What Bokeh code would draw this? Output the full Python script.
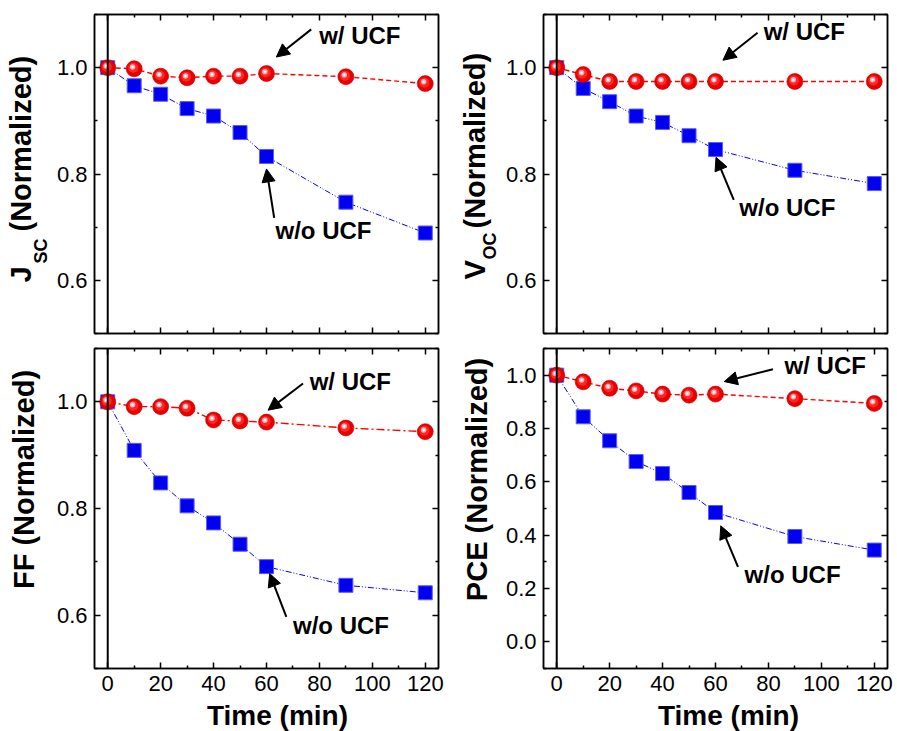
import math
from bokeh.plotting import figure
from bokeh.layouts import column, row
from bokeh.models import (ColumnDataSource, LinearAxis, FixedTicker, Span, Arrow,
                          NormalHead, Label, PrintfTickFormatter, Range1d)
from bokeh.transform import dodge
from bokeh.embed import file_html
from bokeh.resources import INLINE

# ---------------- data ----------------
time_min = [0, 10, 20, 30, 40, 50, 60, 90, 120]

jsc_with = [1.0, 0.998, 0.984, 0.981, 0.984, 0.984, 0.989, 0.983, 0.970]
jsc_without = [1.0, 0.966, 0.950, 0.923, 0.909, 0.878, 0.833, 0.747, 0.689]

voc_with = [1.0, 0.987, 0.974, 0.974, 0.974, 0.974, 0.974, 0.974, 0.974]
voc_without = [1.0, 0.961, 0.936, 0.909, 0.897, 0.872, 0.846, 0.807, 0.782]

ff_with = [1.0, 0.991, 0.991, 0.988, 0.966, 0.964, 0.962, 0.951, 0.944]
ff_without = [1.0, 0.909, 0.848, 0.805, 0.773, 0.733, 0.691, 0.656, 0.642]

pce_with = [1.0, 0.975, 0.951, 0.941, 0.929, 0.925, 0.929, 0.912, 0.894]
pce_without = [1.0, 0.844, 0.754, 0.676, 0.631, 0.560, 0.485, 0.395, 0.344]

x_major_ticks = [0, 20, 40, 60, 80, 100, 120]
x_minor_ticks = [10, 30, 50, 70, 90, 110]
y_major_top = [0.6, 0.8, 1.0]
y_minor_top = [0.5, 0.7, 0.9, 1.1]
y_major_pce = [0.0, 0.2, 0.4, 0.6, 0.8, 1.0]
y_minor_pce = [-0.1, 0.1, 0.3, 0.5, 0.7, 0.9, 1.1]

label_with = "w/ UCF"
label_without = "w/o UCF"
x_title = "Time (min)"

FONT = "Liberation Sans"
RED = "#ff0000"
BLUE = "#0000ff"
MID = 0.35          # baseline -> middle of the text box, as a fraction of font size
NOTE_PX = 24


def style_axis(ax, show_labels):
    ax.axis_line_color = "black"
    ax.axis_line_width = 1.5
    ax.major_tick_in = 6
    ax.major_tick_out = 0
    ax.minor_tick_in = 3
    ax.minor_tick_out = 0
    ax.major_tick_line_color = "black"
    ax.minor_tick_line_color = "black"
    ax.major_tick_line_width = 1.5
    ax.minor_tick_line_width = 1.5
    ax.major_label_text_font = FONT
    if show_labels:
        ax.major_label_text_color = "black"
        ax.major_label_text_font_size = "22px"
        ax.major_label_standoff = 7
    else:
        ax.major_label_text_color = None
        ax.major_label_text_font_size = "1px"
        ax.major_label_standoff = 0
    ax.axis_label = None


def screen_label(x, y, text, size, angle, align):
    # (x, y) is the baseline anchor; shift to the text middle along "text-up"
    shift = MID * size
    if angle:
        x = x - shift
    else:
        y = y + shift
    return Label(x=x, y=y, x_units="screen", y_units="screen", text=text,
                 angle=angle, text_font=FONT, text_font_style="bold",
                 text_font_size=f"{size}px", text_color="black",
                 text_align=align, text_baseline="middle")


def text_strip(width, height, parts, angle):
    """A bare figure (no axes) whose whole canvas is its frame; holds titles."""
    t = figure(width=width, height=height, x_range=Range1d(0, 1), y_range=Range1d(0, 1),
               x_axis_type=None, y_axis_type=None, output_backend="svg",
               toolbar_location=None, tools="", min_border=0,
               min_border_left=0, min_border_right=0, min_border_top=0, min_border_bottom=0)
    t.outline_line_color = None
    t.background_fill_color = "white"
    t.border_fill_color = "white"
    for (text, x, y, size, align) in parts:
        t.add_layout(screen_label(x, y, text, size, angle, align))
    return t


def make_panel(with_vals, without_vals, y_start, y_end, y_major, y_minor,
               width, height, border_left, border_right, border_top, border_bottom,
               show_x_labels, red_dash, notes):
    p = figure(width=width, height=height,
               x_range=Range1d(-5, 125), y_range=Range1d(y_start, y_end),
               output_backend="svg", toolbar_location=None, tools="",
               min_border_left=border_left, min_border_right=border_right,
               min_border_top=border_top, min_border_bottom=border_bottom)
    p.background_fill_color = "white"
    p.border_fill_color = "white"
    p.outline_line_color = "black"
    p.outline_line_width = 1.5
    p.xgrid.grid_line_color = None
    p.ygrid.grid_line_color = None

    p.xaxis.ticker = FixedTicker(ticks=x_major_ticks, minor_ticks=x_minor_ticks)
    p.yaxis.ticker = FixedTicker(ticks=y_major, minor_ticks=y_minor)
    p.yaxis.formatter = PrintfTickFormatter(format="%.1f")
    style_axis(p.xaxis[0], show_x_labels)
    style_axis(p.yaxis[0], True)

    top_ax = LinearAxis(ticker=FixedTicker(ticks=x_major_ticks, minor_ticks=x_minor_ticks))
    right_ax = LinearAxis(ticker=FixedTicker(ticks=y_major, minor_ticks=y_minor))
    style_axis(top_ax, False)
    style_axis(right_ax, False)
    p.add_layout(top_ax, "above")
    p.add_layout(right_ax, "right")

    p.add_layout(Span(location=0, dimension="height", line_color="black", line_width=2))

    src_w = ColumnDataSource(dict(x=time_min, y=with_vals))
    src_wo = ColumnDataSource(dict(x=time_min, y=without_vals))

    p.line("x", "y", source=src_wo, line_color=BLUE, line_width=1, line_dash="6 2 1 2 1 2")
    p.line("x", "y", source=src_w, line_color=RED, line_width=1.4, line_dash=red_dash)

    p.scatter("x", "y", source=src_wo, marker="square", size=14,
              fill_color="#0000f0", line_color="#5a5aff", line_width=1)

    span = y_end - y_start
    p.scatter("x", "y", source=src_w, marker="circle", size=16,
              fill_color="#e80000", line_color="#c80000", line_width=0.6)
    p.scatter(dodge("x", -0.35, range=p.x_range), dodge("y", 0.003 * span, range=p.y_range),
              source=src_w, marker="circle", size=10, fill_color="#ff2626", line_color=None)
    p.scatter(dodge("x", -0.6, range=p.x_range), dodge("y", 0.0055 * span, range=p.y_range),
              source=src_w, marker="circle", size=5.5, fill_color="#ffb0b0", line_color=None)
    p.scatter(dodge("x", -0.6, range=p.x_range), dodge("y", 0.0055 * span, range=p.y_range),
              source=src_w, marker="circle", size=2.5, fill_color="white", line_color=None)

    frame_h = height - border_top - border_bottom
    mid_shift = MID * NOTE_PX * span / frame_h   # baseline -> middle, in data units
    for (tx, ty, text, ax0, ay0, ax1, ay1) in notes:
        p.add_layout(Arrow(end=NormalHead(size=13, fill_color="black", line_color="black"),
                           x_start=ax0, y_start=ay0, x_end=ax1, y_end=ay1,
                           line_color="black", line_width=2))
        p.add_layout(Label(x=tx, y=ty + mid_shift, text=text, text_font=FONT,
                           text_font_style="bold", text_font_size=f"{NOTE_PX}px",
                           text_color="black", text_align="left", text_baseline="middle"))
    return p


ROT = math.pi / 2

# top row: height 342 (frame 14..333)
t1 = text_strip(53, 342, [("J", 31, 51, 29, "left"), ("SC", 47, 70, 18, "left"),
                          ("(Normalized)", 31, 102, 29, "left")], ROT)
f1 = make_panel(jsc_with, jsc_without, 0.5, 1.1, y_major_top, y_minor_top,
                404, 342, 40, 19, 14, 9, False, "5 3",
                [(79.9, 1.044, label_with, 76.9, 1.072, 63.7, 1.020),
                 (63.4, 0.678, label_without, 62.9, 0.7176, 60.0, 0.8095)])

t2 = text_strip(45, 342, [("V", 28, 54, 29, "left"), ("OC", 39, 74, 18, "left"),
                          ("(Normalized)", 28, 105, 29, "left")], ROT)
f2 = make_panel(voc_with, voc_without, 0.5, 1.1, y_major_top, y_minor_top,
                395, 342, 40, 10, 14, 9, False, "5 3",
                [(78.2, 1.053, label_with, 75.9, 1.0656, 62.8, 1.0139),
                 (69.0, 0.722, label_without, 66.9, 0.7513, 60.2, 0.8313)])

# bottom row: height 359 (frame 348..668)
t3 = text_strip(53, 359, [("FF (Normalized)", 34, 189, 29, "center")], ROT)
f3 = make_panel(ff_with, ff_without, 0.5, 1.1, y_major_top, y_minor_top,
                404, 359, 40, 19, 6, 33, True, "8 3 2 3",
                [(76.3, 1.022, label_with, 73.8, 1.0345, 60.6, 0.9844),
                 (70.0, 0.5657, label_without, 67.5, 0.5969, 61.2, 0.678)])

t4 = text_strip(45, 359, [("PCE (Normalized)", 30, 189, 29, "center")], ROT)
f4 = make_panel(pce_with, pce_without, -0.1, 1.1, y_major_pce, y_minor_pce,
                395, 359, 40, 10, 6, 33, True, "5 3",
                [(86.1, 1.004, label_with, 81.7, 1.0225, 63.3, 0.976),
                 (71.0, 0.2224, label_without, 68.5, 0.2812, 62.0, 0.435)])

# x titles strip (y 701..731); baseline at page y ~725
t5 = text_strip(897, 30, [(x_title, 277, 6, 28, "center"),
                          (x_title, 728, 6, 28, "center")], 0)

layout = column(row(t1, f1, t2, f2), row(t3, f3, t4, f4), t5)

open("out.html", "w").write(file_html(layout, INLINE))
